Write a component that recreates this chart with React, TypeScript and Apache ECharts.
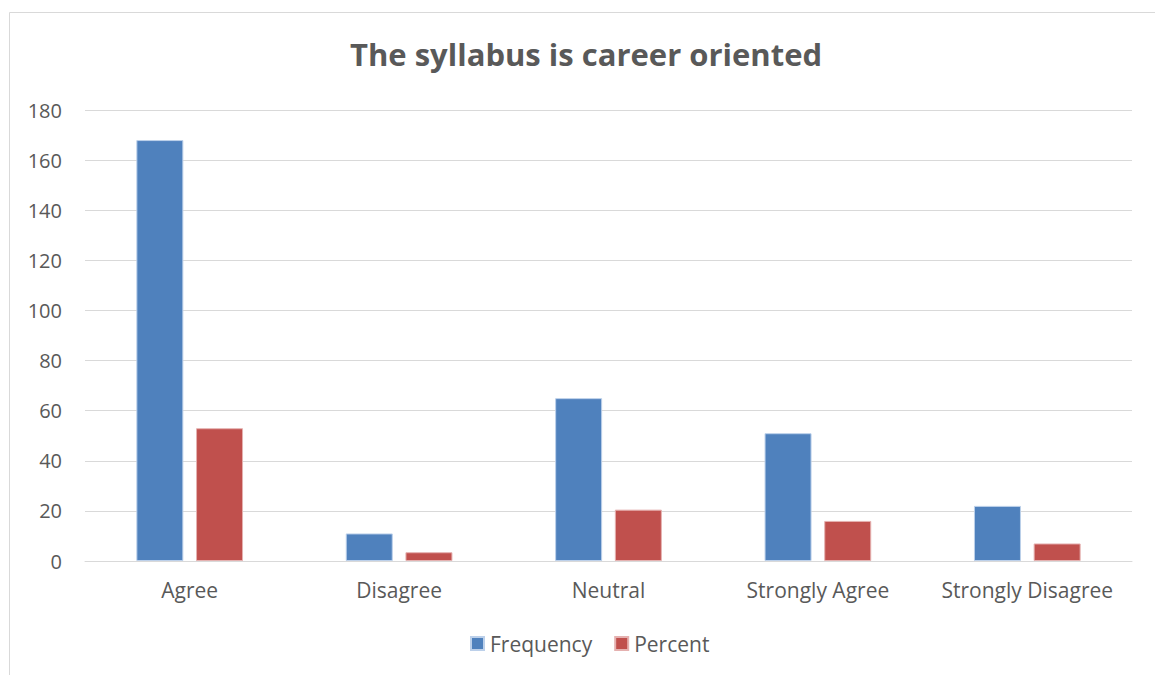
import React, { useEffect, useRef } from "react";
import * as echarts from "echarts";

const categories = ["Agree", "Disagree", "Neutral", "Strongly Agree", "Strongly Disagree"];
const frequency = [168, 11, 65, 51, 22];
const percent = [53, 3.5, 20.5, 16, 7];
const yTicks = { min: 0, max: 180, interval: 20 };

const FONT = "'Open Sans', 'Noto Sans', sans-serif";
const TEXT = "#595959";

export default function App() {
  const ref = useRef<HTMLDivElement>(null);
  useEffect(() => {
    document.body.style.margin = "0";
    const chart = echarts.init(ref.current!, null, { renderer: "svg" });
    chart.setOption({
      animation: false,
      backgroundColor: "#ffffff",
      title: {
        text: "The syllabus is career oriented",
        left: 345,
        top: 33,
        textStyle: { fontFamily: FONT, fontSize: 31, fontWeight: "bold", color: TEXT },
      },
      graphic: [
        {
          type: "rect",
          shape: { x: 9.5, y: 12.5, width: 1160, height: 680 },
          style: { fill: "none", stroke: "#d9d9d9", lineWidth: 1 },
          silent: true,
        },
      ],
      legend: {
        bottom: 16,
        left: 465,
        itemWidth: 13,
        itemHeight: 13,
        itemGap: 22,
        icon: "rect",
        textStyle: { fontFamily: FONT, fontSize: 21, color: TEXT, padding: [0, 0, 0, 1] },
        data: ["Frequency", "Percent"],
      },
      grid: { left: 85, right: 23, top: 110, bottom: 114 },
      xAxis: {
        type: "category",
        data: categories,
        axisLine: { lineStyle: { color: "#d9d9d9", width: 1 } },
        axisTick: { show: false },
        axisLabel: { fontFamily: FONT, fontSize: 21, color: TEXT, margin: 18, interval: 0 },
      },
      yAxis: {
        type: "value",
        min: yTicks.min,
        max: yTicks.max,
        interval: yTicks.interval,
        axisLine: { show: false },
        axisTick: { show: false },
        axisLabel: { fontFamily: FONT, fontSize: 20, color: TEXT, margin: 23 },
        splitLine: { lineStyle: { color: "#d9d9d9", width: 1 } },
      },
      series: [
        {
          name: "Frequency",
          type: "bar",
          data: frequency,
          barWidth: 47,
          barGap: "27%",
          itemStyle: { color: "#4F81BD", borderColor: "#bcd0ea", borderWidth: 1 },
        },
        {
          name: "Percent",
          type: "bar",
          data: percent,
          barWidth: 47,
          itemStyle: { color: "#C0504D", borderColor: "#e5b1b0", borderWidth: 1 },
        },
      ],
    });
    return () => chart.dispose();
  }, []);
  return <div ref={ref} style={{ width: 1155, height: 675 }} />;
}
